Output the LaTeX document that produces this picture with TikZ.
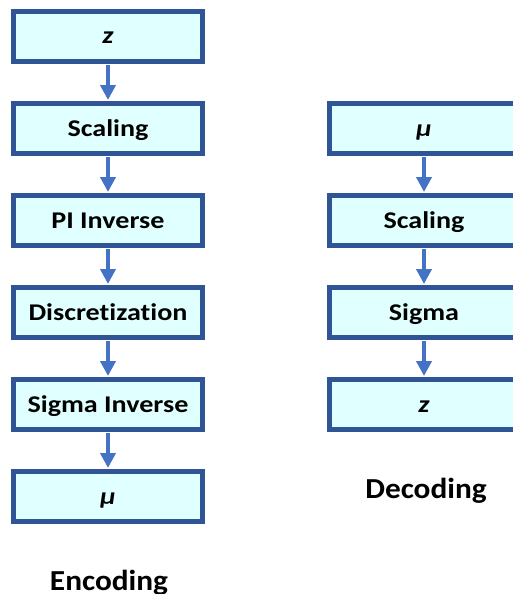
\documentclass[tikz,border=0pt]{standalone}
\usepackage{fontspec}
\setmainfont{Carlito}
\newfontfamily\boxfont[FakeStretch=1.17, Ligatures=NoCommon]{Carlito}
\newfontfamily\capfont[FakeStretch=1.08, Ligatures=NoCommon]{Carlito}
\usetikzlibrary{arrows.meta}
\definecolor{boxline}{HTML}{2F5597}
\definecolor{boxfill}{HTML}{E0FFFF}
\definecolor{flow}{HTML}{4472C4}
\tikzset{
  stage/.style={draw=boxline, fill=boxfill, line width=5pt, minimum width=189pt,
    minimum height=50pt, inner sep=0pt},
  stagetext/.style={font=\boxfont\fontsize{24}{24}\selectfont\bfseries, anchor=base},
  flowarrow/.style={draw=flow, line width=4.5pt,
    -{Triangle[width=15pt,length=15pt]}},
  caption/.style={font=\capfont\fontsize{29}{29}\selectfont\bfseries, anchor=base}
}
\begin{document}
\begin{tikzpicture}[x=1pt, y=-1pt]
\useasboundingbox (0,0) rectangle (513,594);
\clip (0,0) rectangle (513,594);
% encoding chain (left column)
\foreach \n/\y in {e1/36.5, e2/128.5, e3/220.5, e4/312.5, e5/404.5, e6/496.5}
  \node[stage] (\n) at (108,\y) {};
\node[stagetext] at ([yshift=-7.5pt]e1.center) {\itshape z};
\node[stagetext] at ([yshift=-7.5pt]e2.center) {Scaling};
\node[stagetext] at ([yshift=-7.5pt]e3.center) {PI Inverse};
\node[stagetext] at ([yshift=-7.5pt]e4.center) {Discretization};
\node[stagetext] at ([yshift=-7.5pt]e5.center) {Sigma Inverse};
\node[stagetext] at ([yshift=-7.5pt]e6.center) {\itshape μ};
% decoding chain (right column)
\foreach \n/\y in {d1/128.5, d2/220.5, d3/312.5, d4/404.5}
  \node[stage] (\n) at (424,\y) {};
\node[stagetext] at ([yshift=-7.5pt]d1.center) {\itshape μ};
\node[stagetext] at ([yshift=-7.5pt]d2.center) {Scaling};
\node[stagetext] at ([yshift=-7.5pt]d3.center) {Sigma};
\node[stagetext] at ([yshift=-7.5pt]d4.center) {\itshape z};
% connectors
\foreach \a/\b in {e1/e2, e2/e3, e3/e4, e4/e5, e5/e6, d1/d2, d2/d3, d3/d4}
  \draw[flowarrow] ([yshift=-1pt]\a.south) -- ([yshift=1pt]\b.north);
% captions
\node[caption] (enc) at (109,590) {Encoding};
\node[caption] (dec) at (426,498) {Decoding};
\end{tikzpicture}
\end{document}
